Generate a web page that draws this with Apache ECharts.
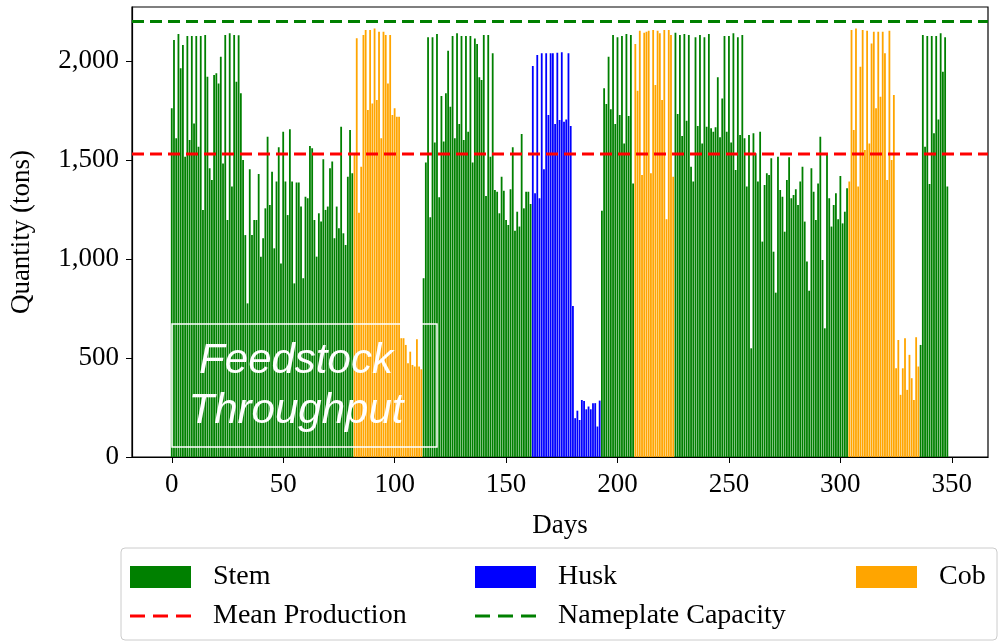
<!DOCTYPE html>
<html>
<head>
<meta charset="utf-8">
<script src="https://cdn.jsdelivr.net/npm/echarts@6/dist/echarts.min.js"></script>
<style>
html, body { margin: 0; padding: 0; background: #fff; }
#chart { width: 999px; height: 642px; }
</style>
</head>
<body>
<div id="chart"></div>
<script>
// daily feedstock throughput in tons, day 0 .. 348
var quantity = [
  1761, 2106, 1610, 2136, 1963, 2081, 1517, 2126, 1601, 2126,
  1685, 2126, 1567, 2126, 1248, 2131, 1921, 1458, 1399, 1929,
  1938, 1887, 2022, 1483, 2131, 1197, 2140, 1366, 2131, 1896,
  2130, 1837, 1500, 1121, 776, 1453, 1121, 1197, 1197, 1429,
  1012, 1105, 1256, 1618, 1273, 1441, 1054, 1391, 1564, 978,
  1643, 1391, 1222, 1655, 1391, 877, 1386, 1386, 1265, 903,
  1315, 1307, 1571, 1559, 1197, 1012, 1231, 1189, 1504, 1248,
  1265, 1458, 1492, 1105, 1265, 1155, 1668, 1130, 1071, 1416,
  1652, 1433,
  // cob 82..112
  1530, 2115, 1234, 1466, 2131, 2157, 1753, 2157, 1786, 2165,
  1803, 2148, 1610, 2148, 2131, 1887, 2131, 1727, 1761, 1719,
  1719, 600, 600, 566, 474, 532, 465, 457, 595, 457,
  443,
  // stem 113..161
  903, 1487, 2120, 1211, 2120, 1588, 2136, 1312, 1823, 1593,
  1837, 2052, 1769, 2126, 1610, 2140, 1682, 2126, 1601, 2126,
  1643, 2126, 1487, 2114, 2086, 1918, 1904, 2131, 1318, 2131,
  1517, 2039, 1349, 1340, 1231, 1416, 1345, 1197, 1172, 1352,
  1564, 1143, 1239, 1164, 1631, 1256, 1340, 1340, 1278,
  // husk 162..192
  1975, 1332, 2030, 1307, 2039, 1453, 2039, 1727, 2039, 2039,
  1682, 2042, 1702, 2045, 1694, 1705, 2039, 1672, 763, 196,
  234, 187, 288, 283, 241, 255, 241, 272, 272, 154,
  285,
  // stem 193..207
  1244, 1862, 1783, 2022, 1756, 2131, 1682, 2120, 1727, 2126,
  1584, 2136, 1722, 2131, 1382,
  // cob 208..225
  2086, 1850, 2153, 1424, 2143, 2148, 2153, 1433, 2157, 1879,
  2153, 2140, 1803, 2157, 1201, 2157, 2131, 1416,
  // stem 226..303
  2143, 1732, 2131, 1621, 2136, 1699, 2131, 1466, 1391, 2120,
  1672, 2131, 1584, 2120, 1668, 2136, 1660, 1643, 1665, 1918,
  1615, 1811, 2126, 1643, 2126, 1588, 2140, 1450, 2120, 1626,
  2131, 1610, 1366, 1626, 549, 1635, 1534, 1391, 1643, 1088,
  1374, 1433, 1424, 1509, 1037, 830, 1517, 1349, 1315, 1138,
  1399, 1514, 1307, 1323, 1352, 1273, 1391, 1466, 1189, 987,
  840, 1458, 1340, 1197, 1382, 1618, 995, 650, 1534, 1307,
  1164, 1273, 1332, 1201, 1419, 1180, 1239, 1357,
  // cob 304..335
  1391, 2157, 1652, 2165, 1366, 1971, 2157, 1551, 2153, 1584,
  2089, 2148, 1761, 2148, 1820, 2148, 2039, 1399, 2153, 1500,
  1828, 448, 591, 314, 448, 600, 339, 516, 398, 288,
  605, 457,
  // stem 336..348
  566, 2131, 1567, 2126, 1379, 2126, 1635, 2126, 1705, 2140,
  1946, 2120, 1366
]

// which feedstock ran on which days: [type, first day, last day]
var runs = [
  ['Stem', 0, 81], ['Cob', 82, 112], ['Stem', 113, 161], ['Husk', 162, 192],
  ['Stem', 193, 207], ['Cob', 208, 225], ['Stem', 226, 303], ['Cob', 304, 335],
  ['Stem', 336, 348]
]

var meanProduction = 1530
var nameplateCapacity = 2200
var xTicks = [0, 50, 100, 150, 200, 250, 300, 350]
var yTicks = [0, 500, 1000, 1500, 2000]

var colors = { Stem: '#008000', Husk: '#0000ff', Cob: '#ffa500' }
var xMin = -17.84
var xMax = 366.24
var yMax = 2273

function seriesFor (type) {
  var data = []
  runs.forEach(function (r) {
    if (r[0] !== type) return
    for (var d = r[1]; d <= r[2]; d++) data.push([d, quantity[d]])
  })
  return {
    name: type,
    type: 'bar',
    data: data,
    barWidth: 1.8,
    barGap: '-100%',
    itemStyle: { color: colors[type] }
  }
}

function hline (name, value, color) {
  return {
    name: name,
    type: 'line',
    data: [[xMin, value], [xMax, value]],
    symbol: 'none',
    z: 5,
    lineStyle: { color: color, width: 3, type: [12, 6] },
    itemStyle: { color: color }
  }
}

function withCommas (v) {
  return String(v).replace(/\B(?=(\d{3})+(?!\d))/g, ',')
}

var serif = 'Liberation Serif'
var labelFont = { fontFamily: serif, fontSize: 27, color: '#000' }

// three dashes, like the matplotlib legend handle for '--'
var dashIcon = 'path://M0,0h15v3h-15z M23,0h15v3h-15z M46,0h15v3h-15z'

function legendAt (name, left, top, isLine) {
  return {
    data: [{ name: name, icon: isLine ? dashIcon : 'rect' }],
    left: left,
    top: top,
    padding: 0,
    itemWidth: 61,
    itemHeight: isLine ? 3 : 22,
    selectedMode: false,
    textStyle: { fontFamily: serif, fontSize: 28, color: '#000', padding: [0, 0, 0, 17] }
  }
}

var chart = echarts.init(document.getElementById('chart'))
chart.setOption({
  animation: false,
  backgroundColor: '#fff',
  grid: {
    left: 132, right: 11, top: 7, bottom: 185,
    show: true, borderColor: '#000', borderWidth: 1.2,
    outerBoundsMode: 'none'
  },
  xAxis: {
    type: 'value',
    min: xMin,
    max: xMax,
    name: 'Days',
    nameLocation: 'middle',
    nameGap: 55,
    nameTextStyle: labelFont,
    axisLine: { show: true, onZero: false, lineStyle: { color: '#000', width: 1.2 } },
    axisTick: { show: true, length: 6, customValues: xTicks, lineStyle: { color: '#000' } },
    axisLabel: Object.assign({ customValues: xTicks, margin: 14 }, labelFont),
    splitLine: { show: false }
  },
  yAxis: {
    type: 'value',
    min: 0,
    max: yMax,
    name: 'Quantity (tons)',
    nameLocation: 'middle',
    nameGap: 97,
    nameTextStyle: labelFont,
    axisLine: { show: true, onZero: false, lineStyle: { color: '#000', width: 1.2 } },
    axisTick: { show: true, length: 6, customValues: yTicks, lineStyle: { color: '#000' } },
    axisLabel: Object.assign({ customValues: yTicks, margin: 13, formatter: withCommas }, labelFont),
    splitLine: { show: false }
  },
  legend: [
    legendAt('Stem', 130, 563, false),
    legendAt('Husk', 475, 563, false),
    legendAt('Cob', 856, 563, false),
    legendAt('Mean Production', 130, 602, true),
    legendAt('Nameplate Capacity', 475, 602, true)
  ],
  graphic: [
    {
      type: 'rect',
      shape: { x: 121, y: 548, width: 876, height: 92, r: 4 },
      style: { fill: 'none', stroke: '#cccccc', lineWidth: 1 },
      silent: true
    },
    {
      type: 'rect',
      shape: { x: 172, y: 324, width: 265, height: 123 },
      style: { fill: 'none', stroke: '#fff', lineWidth: 1.5 },
      z: 100,
      silent: true
    },
    {
      type: 'text',
      x: 296,
      y: 386,
      z: 101,
      silent: true,
      style: {
        text: 'Feedstock\nThroughput',
        fill: '#fff',
        font: 'italic 42px "Liberation Sans"',
        align: 'center',
        verticalAlign: 'middle',
        lineHeight: 50
      }
    }
  ],
  series: [
    seriesFor('Stem'),
    seriesFor('Husk'),
    seriesFor('Cob'),
    hline('Mean Production', meanProduction, '#ff0000'),
    hline('Nameplate Capacity', nameplateCapacity, '#008000')
  ]
})
</script>
</body>
</html>
